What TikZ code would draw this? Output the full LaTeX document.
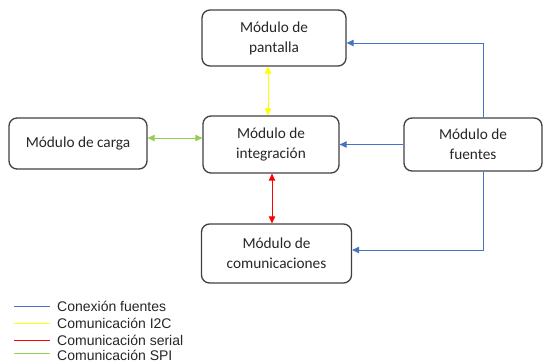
\documentclass[tikz,border=0pt]{standalone}
\usepackage{fontspec}
\setmainfont{Carlito}
\newfontfamily\legfont{Liberation Sans}
\usetikzlibrary{arrows.meta}
\definecolor{boxgray}{HTML}{404040}
\definecolor{cblue}{HTML}{4472C4}
\definecolor{cyellow}{HTML}{FFFF00}
\definecolor{cred}{HTML}{FF0000}
\definecolor{cgreen}{HTML}{92D050}
\tikzset{
  box/.style={draw=boxgray, line width=1.3pt, rounded corners=8pt, align=center,
    inner sep=0pt, font=\fontsize{15.3}{20}\selectfont, text=black!85},
  conn/.style={line width=1pt, -{Triangle[length=7pt,width=6.5pt]}},
  both/.style={line width=1pt, {Triangle[length=7pt,width=6.5pt]}-{Triangle[length=7pt,width=6.5pt]}},
  legline/.style={line width=1pt},
  legtext/.style={anchor=west, inner sep=0pt, font=\legfont\fontsize{14}{16}\selectfont, text=black!85}
}
\begin{document}
\begin{tikzpicture}[x=1pt,y=-1pt]
\useasboundingbox (0,0) rectangle (544,362);
\node[box, minimum width=144pt, minimum height=56pt] (pa) at (274,38) {Módulo de\\pantalla};
\node[box, minimum width=136pt, minimum height=57pt] (in) at (271,144.5) {Módulo de\\integración};
\node[box, minimum width=138pt, minimum height=51pt] (ca) at (78,143.5) {Módulo de carga};
\node[box, minimum width=138pt, minimum height=53pt] (fu) at (473,144.5) {Módulo de\\fuentes};
\node[box, minimum width=150pt, minimum height=59pt] (co) at (276.5,253.5) {Módulo de\\comunicaciones};
% blue connections
\coordinate (ptop) at (483,43);
\coordinate (pbot) at (483,250);
\draw[conn, cblue] (fu.north -| ptop) |- (pa.east |- ptop);
\draw[conn, cblue] (fu.west) -- (in.east);
\draw[conn, cblue] (fu.south -| pbot) |- (co.east |- pbot);
% yellow
\coordinate (yx) at (268,0);
\draw[both, cyellow] (pa.south -| yx) -- (in.north -| yx);
% red
\coordinate (rx) at (272,0);
\draw[both, cred] (in.south -| rx) -- (co.north -| rx);
% green
\coordinate (gy) at (0,138);
\draw[both, cgreen] (ca.east |- gy) -- (in.west |- gy);
% legend
\draw[legline, cblue] (14,306) -- (50,306);
\node[legtext] (l1) at (57,306) {Conexión fuentes};
\draw[legline, cyellow] (14,323) -- (50,323);
\node[legtext] (l2) at (57,323) {Comunicación I2C};
\draw[legline, cred] (14,340) -- (50,340);
\node[legtext] (l3) at (57,340) {Comunicación serial};
\draw[legline, cgreen] (14,353) -- (50,353);
\node[legtext] (l4) at (57,355) {Comunicación SPI};
\end{tikzpicture}
\end{document}
